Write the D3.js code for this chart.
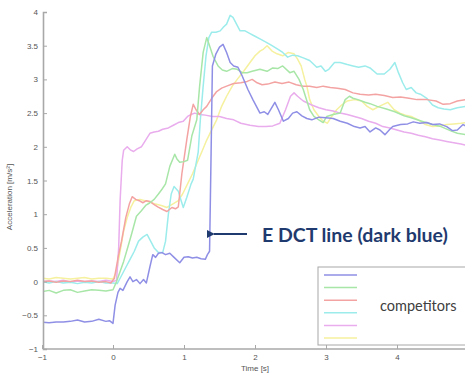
<!DOCTYPE html>
<html>
<head>
<meta charset="utf-8">
<script src="https://cdn.jsdelivr.net/npm/d3@7"></script>
<style>
  html, body { margin: 0; padding: 0; background: #fff; }
  svg { display: block; }
</style>
</head>
<body>
<div id="chart"></div>
<script>
// time [s], acceleration [m/s^2] pairs
const edct = [[-1,-0.6],[-0.9,-0.61],[-0.8,-0.6],[-0.7,-0.6],[-0.6,-0.59],[-0.5,-0.57],[-0.4,-0.6],[-0.3,-0.59],[-0.2,-0.56],[-0.1,-0.59],[-0.05,-0.58],[0,-0.62],[0.03,-0.35],[0.07,-0.16],[0.1,-0.1],[0.14,-0.13],[0.2,0.0],[0.24,0.07],[0.28,0.0],[0.33,0.03],[0.38,-0.03],[0.43,0.03],[0.47,-0.02],[0.52,0.22],[0.56,0.4],[0.6,0.36],[0.64,0.42],[0.69,0.43],[0.74,0.4],[0.8,0.42],[0.86,0.36],[0.94,0.28],[1.0,0.36],[1.06,0.37],[1.12,0.35],[1.18,0.36],[1.24,0.34],[1.3,0.33],[1.33,0.4],[1.36,0.45],[1.38,1.8],[1.4,3.2],[1.45,3.38],[1.5,3.48],[1.55,3.52],[1.6,3.4],[1.65,3.25],[1.7,3.2],[1.76,3.18],[1.82,3.05],[1.9,2.85],[1.97,2.7],[2.07,2.5],[2.13,2.52],[2.18,2.48],[2.28,2.66],[2.33,2.55],[2.4,2.38],[2.47,2.42],[2.53,2.5],[2.59,2.52],[2.66,2.46],[2.73,2.42],[2.8,2.4],[2.9,2.44],[3.0,2.43],[3.1,2.42],[3.2,2.38],[3.3,2.35],[3.4,2.3],[3.48,2.28],[3.55,2.3],[3.62,2.22],[3.7,2.28],[3.76,2.25],[3.83,2.18],[3.9,2.26],[3.94,2.3],[4.05,2.33],[4.15,2.34],[4.23,2.37],[4.32,2.35],[4.42,2.36],[4.5,2.33],[4.6,2.34],[4.7,2.3],[4.78,2.24],[4.85,2.25],[4.93,2.33],[4.98,2.3]];

const green = [[-1,-0.15],[-0.9,-0.13],[-0.8,-0.17],[-0.7,-0.13],[-0.6,-0.12],[-0.5,-0.16],[-0.4,-0.14],[-0.3,-0.12],[-0.2,-0.13],[-0.1,-0.14],[0,-0.12],[0.05,0.0],[0.1,0.15],[0.15,0.3],[0.2,0.48],[0.26,0.7],[0.33,0.97],[0.4,1.05],[0.46,1.13],[0.52,1.17],[0.58,1.22],[0.64,1.3],[0.69,1.37],[0.74,1.45],[0.8,1.71],[0.87,1.89],[0.9,1.82],[0.94,1.77],[1.0,1.78],[1.05,1.8],[1.11,2.16],[1.18,2.4],[1.22,2.9],[1.27,3.4],[1.32,3.62],[1.36,3.5],[1.41,3.34],[1.48,3.2],[1.54,3.14],[1.6,3.12],[1.68,3.16],[1.75,3.15],[1.82,3.1],[1.89,3.1],[1.96,3.12],[2.07,3.15],[2.17,3.12],[2.25,3.17],[2.32,3.16],[2.39,3.2],[2.49,3.1],[2.55,3.12],[2.62,3.0],[2.68,2.85],[2.74,2.65],[2.77,2.55],[2.83,2.45],[2.9,2.4],[2.96,2.36],[3.01,2.45],[3.1,2.48],[3.2,2.5],[3.27,2.7],[3.33,2.75],[3.38,2.72],[3.45,2.7],[3.55,2.66],[3.62,2.64],[3.72,2.6],[3.85,2.56],[3.97,2.52],[4.1,2.46],[4.2,2.43],[4.35,2.38],[4.5,2.33],[4.62,2.3],[4.75,2.24],[4.85,2.2],[4.98,2.18]];

const red = [[-1,0.0],[-0.9,0.01],[-0.8,-0.01],[-0.7,0.01],[-0.6,0.0],[-0.5,0.02],[-0.4,0.0],[-0.3,0.01],[-0.2,-0.01],[-0.1,0.0],[-0.03,-0.02],[0.02,0.05],[0.07,0.35],[0.12,0.6],[0.18,0.95],[0.23,1.15],[0.27,1.26],[0.32,1.22],[0.37,1.2],[0.42,1.17],[0.47,1.2],[0.52,1.19],[0.57,1.15],[0.63,1.11],[0.7,1.07],[0.76,1.04],[0.83,1.1],[0.88,1.08],[0.92,1.11],[0.97,1.6],[1.04,2.11],[1.09,2.45],[1.13,2.63],[1.17,2.55],[1.22,2.48],[1.27,2.55],[1.32,2.6],[1.39,2.72],[1.46,2.82],[1.53,2.87],[1.6,2.9],[1.7,2.94],[1.8,2.95],[1.89,2.97],[1.96,3.0],[2.03,2.95],[2.1,2.92],[2.18,2.93],[2.28,2.96],[2.38,2.94],[2.48,2.96],[2.58,2.92],[2.68,2.9],[2.77,2.9],[2.87,2.88],[2.96,2.9],[3.06,2.88],[3.16,2.87],[3.27,2.85],[3.38,2.8],[3.48,2.78],[3.6,2.77],[3.7,2.78],[3.82,2.76],[3.94,2.73],[4.05,2.74],[4.17,2.72],[4.28,2.7],[4.42,2.7],[4.55,2.68],[4.65,2.63],[4.75,2.64],[4.85,2.68],[4.98,2.7]];

const cyan = [[-1,0.0],[-0.9,-0.02],[-0.8,0.0],[-0.7,-0.02],[-0.6,-0.01],[-0.5,-0.03],[-0.4,-0.01],[-0.3,-0.02],[-0.2,0.0],[-0.1,-0.02],[0,-0.02],[0.06,-0.03],[0.1,0.05],[0.15,0.15],[0.2,0.25],[0.24,0.33],[0.3,0.45],[0.36,0.6],[0.42,0.66],[0.48,0.7],[0.53,0.6],[0.58,0.5],[0.64,0.43],[0.7,0.43],[0.74,0.6],[0.78,1.0],[0.82,1.3],[0.86,1.41],[0.92,1.34],[0.96,1.2],[0.99,1.1],[1.04,1.25],[1.1,1.45],[1.13,1.52],[1.17,1.75],[1.2,1.92],[1.23,2.4],[1.27,2.9],[1.31,3.35],[1.35,3.62],[1.39,3.7],[1.45,3.7],[1.51,3.72],[1.56,3.78],[1.6,3.82],[1.65,3.95],[1.69,3.92],[1.74,3.82],[1.79,3.72],[1.86,3.72],[1.93,3.68],[2.0,3.64],[2.07,3.6],[2.16,3.55],[2.24,3.5],[2.32,3.45],[2.39,3.4],[2.46,3.33],[2.53,3.36],[2.6,3.35],[2.68,3.32],[2.77,3.28],[2.87,3.18],[2.93,3.2],[2.99,3.12],[3.04,3.15],[3.12,3.25],[3.2,3.25],[3.3,3.22],[3.38,3.2],[3.46,3.18],[3.55,3.2],[3.62,3.17],[3.72,3.08],[3.82,3.08],[3.9,3.15],[3.97,3.25],[4.02,3.1],[4.08,2.95],[4.13,2.85],[4.2,2.88],[4.27,2.8],[4.33,2.78],[4.42,2.72],[4.5,2.62],[4.58,2.58],[4.66,2.56],[4.75,2.55],[4.85,2.58],[4.98,2.6]];

const magenta = [[-1,0.0],[-0.9,0.01],[-0.8,0.0],[-0.7,0.02],[-0.6,-0.01],[-0.5,0.01],[-0.4,0.0],[-0.3,0.01],[-0.2,0.0],[-0.1,0.02],[0.0,0.0],[0.05,0.02],[0.08,0.5],[0.1,1.2],[0.13,1.8],[0.15,1.95],[0.2,2.0],[0.25,1.95],[0.29,1.93],[0.34,1.97],[0.4,2.0],[0.46,2.1],[0.52,2.2],[0.58,2.22],[0.64,2.23],[0.7,2.26],[0.78,2.28],[0.85,2.32],[0.92,2.36],[0.99,2.38],[1.05,2.45],[1.1,2.48],[1.15,2.5],[1.22,2.48],[1.3,2.47],[1.4,2.45],[1.5,2.45],[1.6,2.42],[1.7,2.4],[1.8,2.35],[1.93,2.32],[2.05,2.3],[2.15,2.3],[2.25,2.31],[2.35,2.35],[2.43,2.55],[2.5,2.75],[2.55,2.8],[2.6,2.75],[2.68,2.68],[2.8,2.62],[2.9,2.58],[3.0,2.55],[3.1,2.53],[3.2,2.5],[3.3,2.48],[3.4,2.45],[3.5,2.42],[3.6,2.38],[3.7,2.35],[3.8,2.3],[3.9,2.28],[4.0,2.25],[4.1,2.22],[4.2,2.2],[4.3,2.17],[4.4,2.15],[4.5,2.12],[4.6,2.1],[4.7,2.08],[4.8,2.06],[4.9,2.04],[4.98,2.02]];

const yellow = [[-1,0.05],[-0.9,0.04],[-0.8,0.06],[-0.7,0.05],[-0.6,0.04],[-0.5,0.05],[-0.4,0.06],[-0.3,0.04],[-0.2,0.05],[-0.1,0.05],[0,0.04],[0.05,0.15],[0.1,0.45],[0.15,0.75],[0.2,0.95],[0.25,1.1],[0.3,1.2],[0.38,1.22],[0.45,1.2],[0.52,1.18],[0.6,1.15],[0.68,1.13],[0.76,1.1],[0.84,1.15],[0.92,1.2],[0.98,1.3],[1.05,1.45],[1.12,1.6],[1.2,1.8],[1.26,1.95],[1.32,2.1],[1.39,2.25],[1.46,2.4],[1.53,2.6],[1.6,2.75],[1.68,2.9],[1.75,3.0],[1.84,3.12],[1.93,3.25],[2.0,3.35],[2.07,3.42],[2.12,3.45],[2.17,3.5],[2.24,3.42],[2.31,3.38],[2.39,3.35],[2.47,3.4],[2.55,3.38],[2.6,3.3],[2.65,3.2],[2.7,3.0],[2.73,2.9],[2.77,2.7],[2.83,2.55],[2.9,2.45],[2.96,2.38],[3.02,2.35],[3.08,2.45],[3.15,2.55],[3.22,2.62],[3.3,2.68],[3.4,2.7],[3.5,2.68],[3.58,2.6],[3.66,2.55],[3.75,2.6],[3.87,2.66],[3.96,2.55],[4.04,2.5],[4.12,2.47],[4.2,2.45],[4.3,2.4],[4.4,2.33],[4.5,2.3],[4.6,2.31],[4.7,2.33],[4.8,2.34],[4.9,2.35],[4.98,2.36]];

const seriesNames = ["E DCT", "comp1", "comp2", "comp3", "comp4", "comp5"];
const seriesData = [edct, green, red, cyan, magenta, yellow];
const seriesColors = ["#8f8fe6", "#a8e6a8", "#f4a3a3", "#9cecec", "#e9aced", "#f5f19e"];

const xTicks = [-1, 0, 1, 2, 3, 4];
const yTicks = [-1, -0.5, 0, 0.5, 1, 1.5, 2, 2.5, 3, 3.5, 4];

const width = 465, height = 379;
const plotLeft = 43, plotBottom = 349, plotTop = 12, plotRight = 468;

const svg = d3.select("#chart").append("svg")
    .attr("width", width)
    .attr("height", height)
    .style("font-family", "'Liberation Sans', Arial, sans-serif");

const x = d3.scaleLinear().domain([-1, 5]).range([plotLeft - 1, plotRight]);
const y = d3.scaleLinear().domain([-1, 4]).range([plotBottom, plotTop]);

svg.append("clipPath").attr("id", "plot")
    .append("rect").attr("x", plotLeft).attr("y", 0).attr("width", width - plotLeft).attr("height", plotBottom);

const line = d3.line().x(d => x(d[0])).y(d => y(d[1]));

// competitors first, E DCT on top
const order = [5, 4, 3, 2, 1, 0];
svg.append("g").attr("clip-path", "url(#plot)")
    .selectAll("path")
    .data(order)
    .enter()
    .append("path")
    .attr("d", i => line(seriesData[i]))
    .attr("fill", "none")
    .attr("stroke", i => seriesColors[i])
    .attr("stroke-width", 1.5)
    .attr("stroke-linejoin", "round");

// axes, MATLAB style: ticks pointing inward
const xAxis = svg.append("g")
    .attr("transform", `translate(0,${plotBottom})`)
    .call(d3.axisBottom(x).tickValues(xTicks).tickSize(-4).tickPadding(5).tickFormat(d3.format("")));
const yAxis = svg.append("g")
    .attr("transform", `translate(${plotLeft},0)`)
    .call(d3.axisLeft(y).tickValues(yTicks).tickSize(-4).tickPadding(5).tickFormat(d3.format("")));

[xAxis, yAxis].forEach(g => {
    g.select(".domain").attr("stroke", "#a8a8a8").attr("stroke-width", 1.6);
    g.selectAll(".tick line").attr("stroke", "#a8a8a8");
    g.selectAll(".tick text").attr("fill", "#555").style("font-size", "8px");
});
xAxis.select(".domain").attr("d", `M${plotLeft},0H${width + 5}`);

svg.append("text")
    .attr("x", 255).attr("y", 371)
    .attr("text-anchor", "middle")
    .attr("fill", "#555")
    .style("font-size", "8px")
    .text("Time [s]");

svg.append("text")
    .attr("transform", "translate(12,197) rotate(-90)")
    .attr("text-anchor", "middle")
    .attr("fill", "#555")
    .style("font-size", "8px")
    .text("Acceleration [m/s²]");

// legend box
const legendTop = 267, legendBottom = 345, legendLeft = 318;
svg.append("rect")
    .attr("x", legendLeft).attr("y", legendTop)
    .attr("width", width - legendLeft + 5).attr("height", legendBottom - legendTop)
    .attr("fill", "#fff")
    .attr("stroke", "#a8a8a8");

const legendY = d3.scalePoint().domain(seriesNames).range([275, 338]);
svg.append("g").selectAll("line")
    .data(seriesNames)
    .enter()
    .append("line")
    .attr("x1", 324).attr("x2", 357)
    .attr("y1", d => legendY(d)).attr("y2", d => legendY(d))
    .attr("stroke", (d, i) => seriesColors[i])
    .attr("stroke-width", 1.5);

svg.append("text")
    .attr("x", 380).attr("y", 311)
    .attr("fill", "#404040")
    .style("font-family", "Lato, 'Open Sans', sans-serif")
    .style("font-size", "14.5px")
    .text("competitors");

// annotation arrow pointing at the E DCT jump
const navy = "#1f3a6e";
svg.append("defs").append("marker")
    .attr("id", "head")
    .attr("viewBox", "0 0 10 10")
    .attr("refX", 1).attr("refY", 5)
    .attr("markerWidth", 4).attr("markerHeight", 4)
    .attr("orient", "auto-start-reverse")
    .append("path")
    .attr("d", "M0,5L10,0L10,10Z")
    .attr("fill", navy);

svg.append("line")
    .attr("x1", 247).attr("y1", 234)
    .attr("x2", 214).attr("y2", 234)
    .attr("stroke", navy)
    .attr("stroke-width", 2)
    .attr("marker-end", "url(#head)");

svg.append("text")
    .attr("x", 262).attr("y", 242)
    .attr("fill", navy)
    .style("font-family", "Lato, 'Open Sans', sans-serif")
    .style("font-weight", "bold")
    .style("font-size", "19.5px")
    .text("E DCT line (dark blue)");
</script>
</body>
</html>
